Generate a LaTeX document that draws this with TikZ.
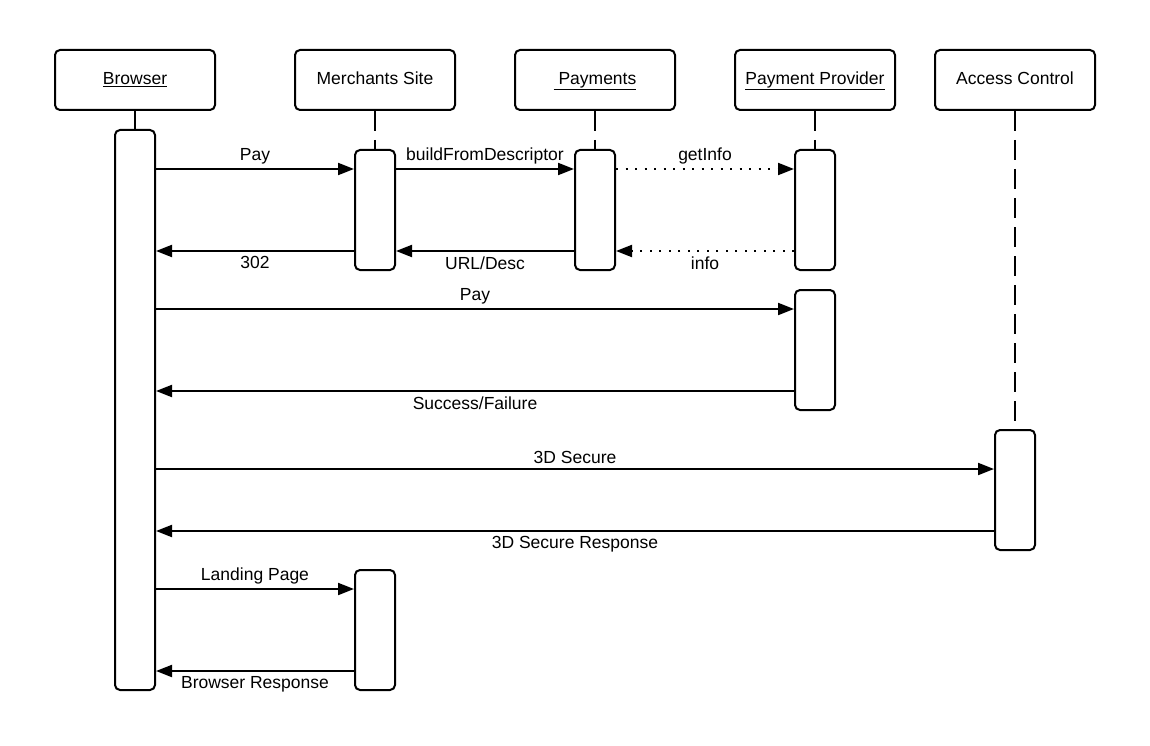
\documentclass[tikz,border=0pt]{standalone}
\usepackage{fontspec}
\setmainfont{Liberation Sans}
\usetikzlibrary{arrows.meta,positioning,calc}

\begin{document}
\begin{tikzpicture}[
            x = 1pt, y = -1pt,
            line width = 2pt,
            font = \fontsize{17.5}{21}\selectfont,
            actor/.style={
                draw,
                rectangle,
                rounded corners = 5pt,
                minimum width = 160pt,
                minimum height = 60pt,
                text height = 13pt,
                text depth = 4pt
            },
            bar/.style={
                draw,
                fill = white,
                rectangle,
                rounded corners = 5pt,
                minimum width = 40pt
            },
            lifeline/.style = {dash pattern = on 20pt off 9pt},
            msg/.style = {-{Triangle[length=16pt,width=12pt]}},
            reply/.style = {msg, dash pattern = on 2pt off 7.5pt}
        ]
        \useasboundingbox (0,0) rectangle (1150,746);

        % actors
        \node[actor] (browser) at (135,80) {\underline{Browser}};
        \node[actor] (merchant) at (375,80) {Merchants Site};
        \node[actor] (payments) at (595,80) {\underline{~Payments}};
        \node[actor] (provider) at (815,80) {\underline{Payment Provider}};
        \node[actor] (access) at (1015,80) {Access Control};

        % activation bars
        \node[bar, minimum height = 560pt] (br) at (135,410) {};
        \node[bar, minimum height = 120pt] (ms1) at (375,210) {};
        \node[bar, minimum height = 120pt] (pm1) at (595,210) {};
        \node[bar, minimum height = 120pt] (pp1) at (815,210) {};
        \node[bar, minimum height = 120pt] (pp2) at (815,350) {};
        \node[bar, minimum height = 120pt] (ac1) at (1015,490) {};
        \node[bar, minimum height = 120pt] (ms2) at (375,630) {};

        % lifelines
        \draw[lifeline] (browser) -- (br);
        \draw[lifeline] (merchant) -- (ms1);
        \draw[lifeline] (payments) -- (pm1);
        \draw[lifeline] (provider) -- (pp1);
        \draw[lifeline] (access) -- (ac1);

        % message rows
        \path (ms1.north west) ++(0,20) coordinate (ms1in);
        \path (ms1.south west) ++(0,-20) coordinate (ms1out);
        \path (pm1.north west) ++(0,20) coordinate (pm1in);
        \path (pm1.south west) ++(0,-20) coordinate (pm1out);
        \path (pp1.north west) ++(0,20) coordinate (pp1in);
        \path (pp1.south west) ++(0,-20) coordinate (pp1out);
        \path (pp2.north west) ++(0,20) coordinate (pp2in);
        \path (pp2.south west) ++(0,-20) coordinate (pp2out);
        \path (ac1.north west) ++(0,40) coordinate (ac1in);
        \path (ac1.south west) ++(0,-20) coordinate (ac1out);
        \path (ms2.north west) ++(0,20) coordinate (ms2in);
        \path (ms2.south west) ++(0,-20) coordinate (ms2out);

        % messages
        \draw[msg] (br.east |- ms1in) -- node[above=1pt] {Pay} (ms1in);
        \draw[msg] (ms1.east |- pm1in) -- node[above=1pt] {buildFromDescriptor} (pm1in);
        \draw[reply] (pm1.east |- pp1in) -- node[above=1pt] {getInfo} (pp1in);
        \draw[reply] (pp1out) -- node[below=1pt] {info} (pm1.east |- pp1out);
        \draw[msg] (pm1out) -- node[below=1pt] {URL/Desc} (ms1.east |- pm1out);
        \draw[msg] (ms1out) -- node[below=1pt] {302} (br.east |- ms1out);
        \draw[msg] (br.east |- pp2in) -- node[above=1pt] {Pay} (pp2in);
        \draw[msg] (pp2out) -- node[below=1pt] {Success/Failure} (br.east |- pp2out);
        \draw[msg] (br.east |- ac1in) -- node[above=1pt] {3D Secure} (ac1in);
        \draw[msg] (ac1out) -- node[below=1pt] {3D Secure Response} (br.east |- ac1out);
        \draw[msg] (br.east |- ms2in) -- node[above=1pt] {Landing Page} (ms2in);
        \draw[msg] (ms2out) -- node[below=1pt] {Browser Response} (br.east |- ms2out);
    \end{tikzpicture}
\end{document}
